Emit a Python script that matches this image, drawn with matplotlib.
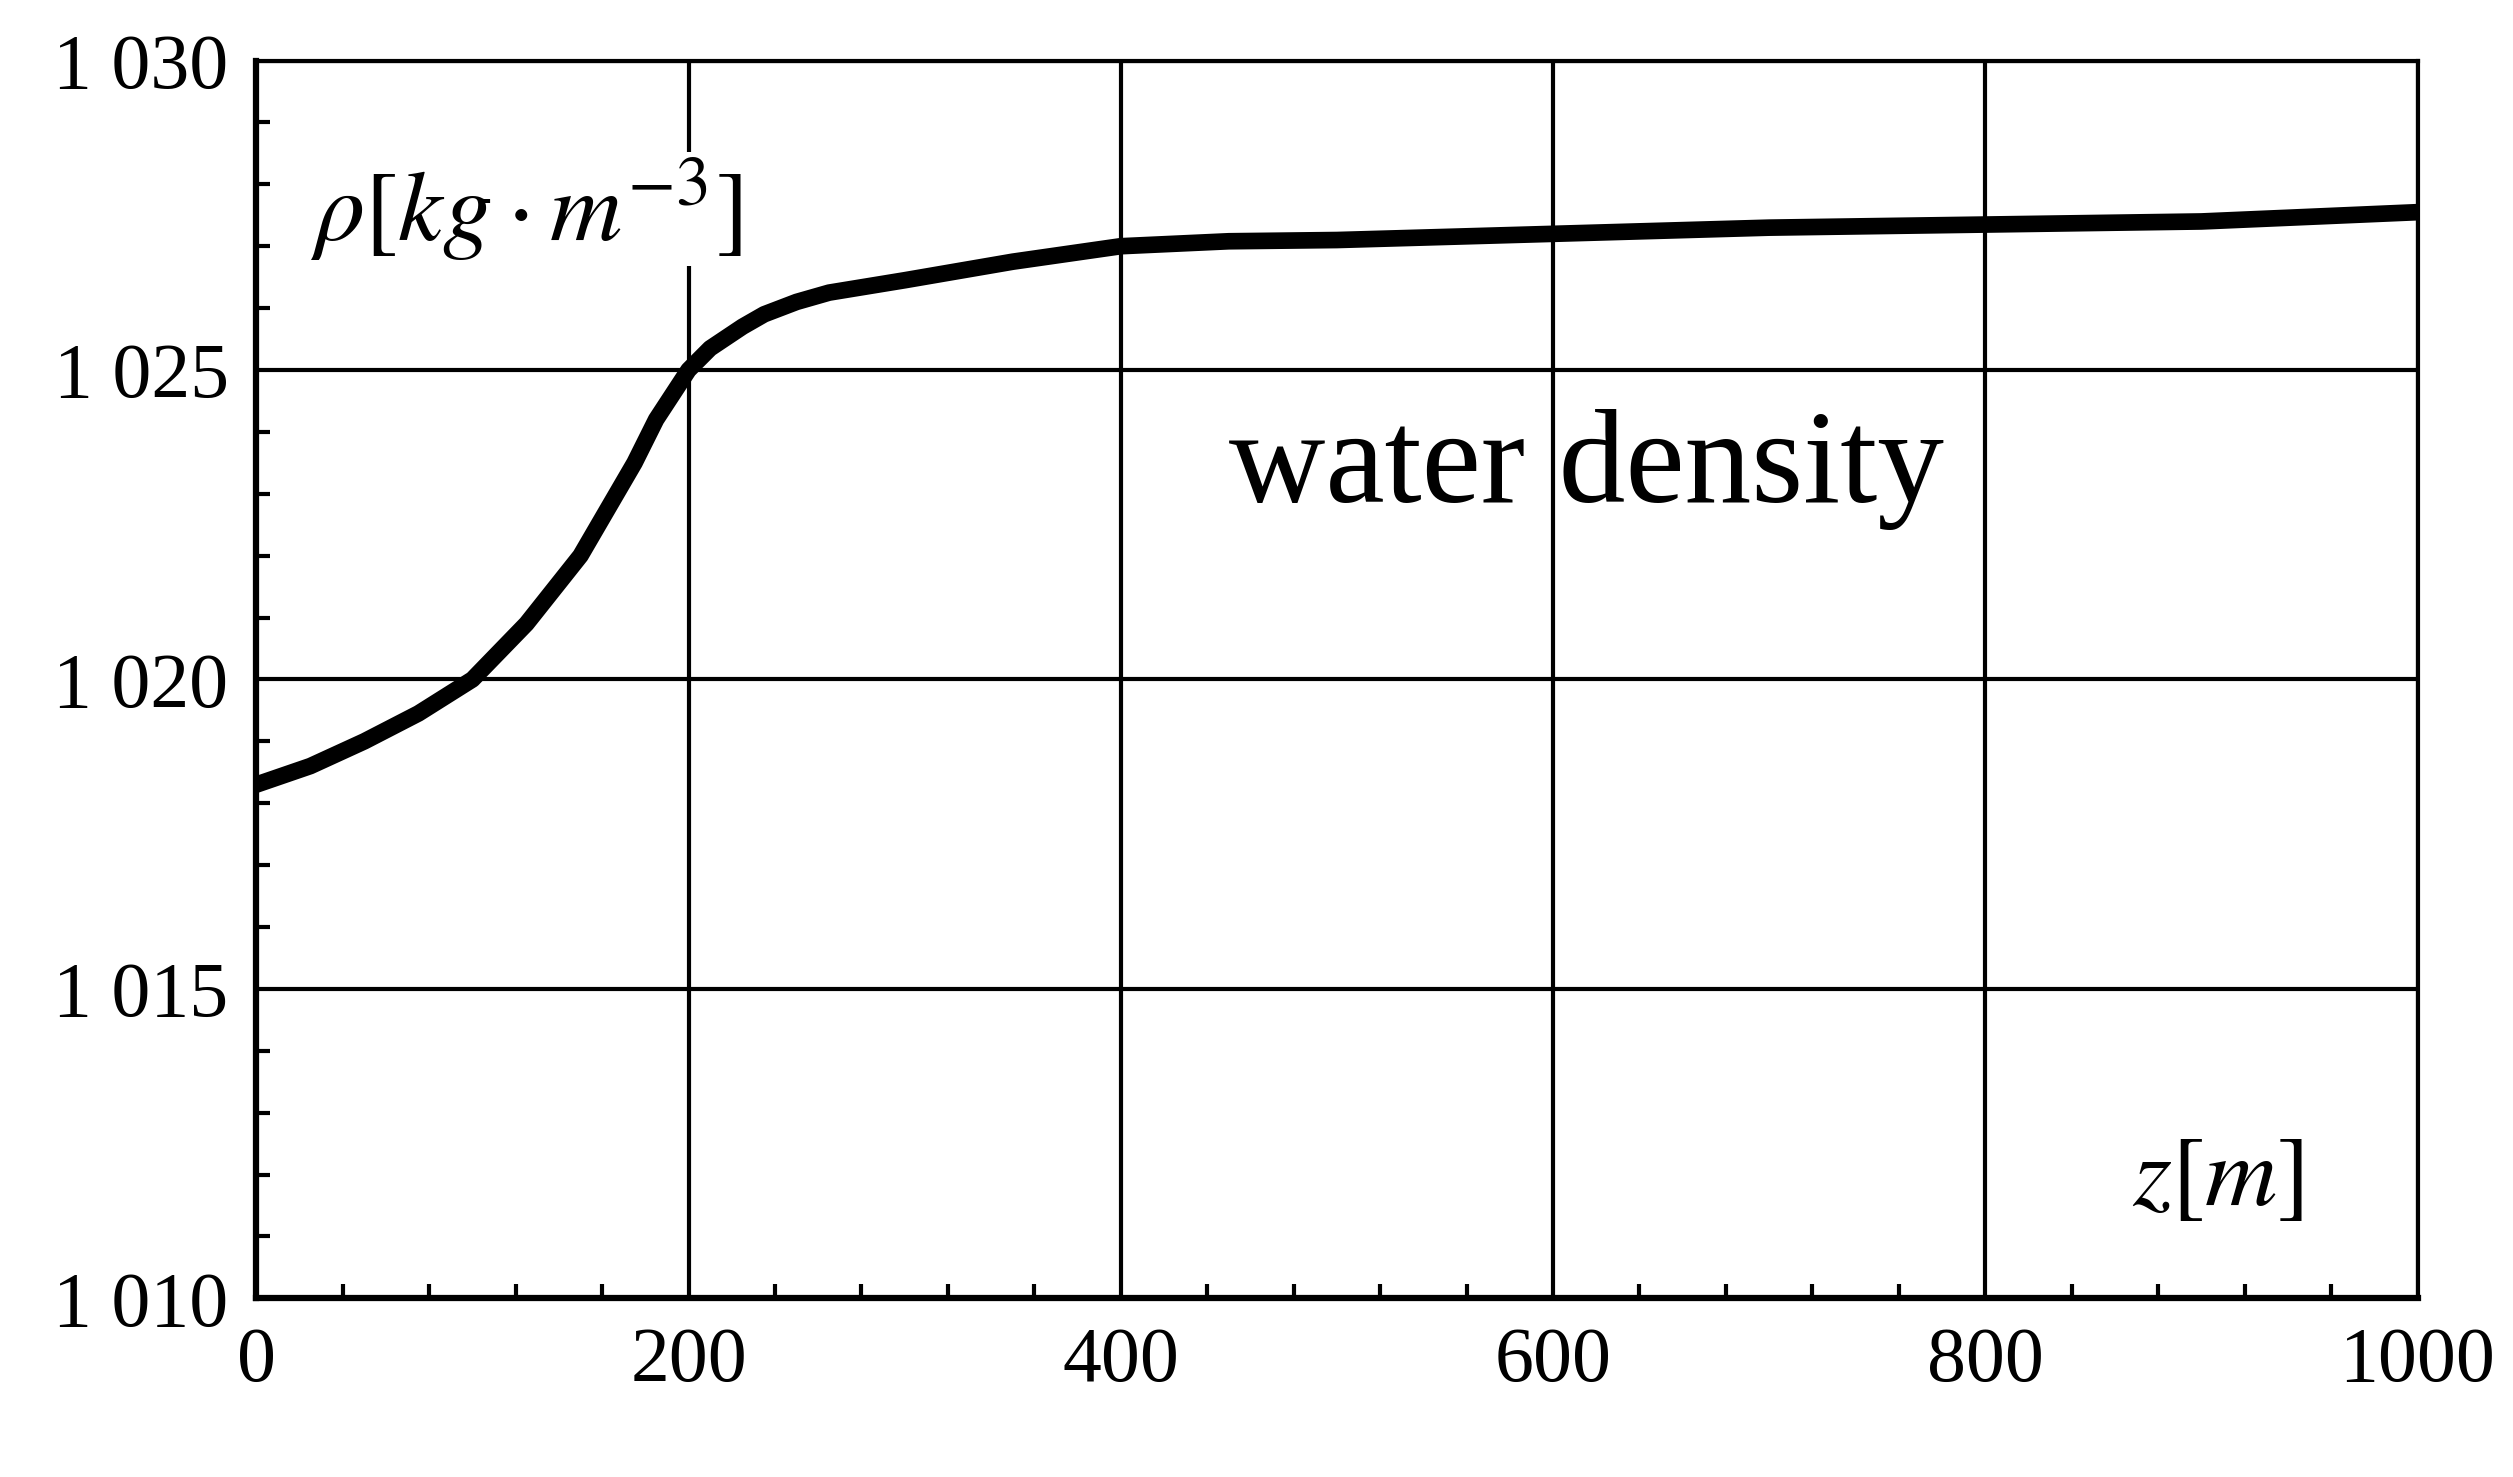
import matplotlib.pyplot as plt
from matplotlib.ticker import MultipleLocator, FuncFormatter

depth = [0, 25, 50, 75, 100, 125, 150, 160, 175, 185, 200, 210, 225, 235, 250, 265, 300, 350,
         400, 450, 500, 600, 700, 800, 900, 1000]
density = [1018.3, 1018.6, 1019.0, 1019.45, 1020.0, 1020.9, 1022.0, 1022.6, 1023.5, 1024.2,
           1025.0, 1025.35, 1025.7, 1025.9, 1026.1, 1026.25, 1026.45, 1026.75,
           1027.0, 1027.08, 1027.1, 1027.2, 1027.3, 1027.35, 1027.4, 1027.55]

plt.rcParams['font.family'] = ['Liberation Serif', 'DejaVu Serif']
plt.rcParams['mathtext.fontset'] = 'stix'

fig = plt.figure(figsize=(25.13, 14.77), dpi=100)
ax = fig.add_axes([0.102, 0.121, 0.860, 0.838])
ax.plot(depth, density, color='black', lw=12, solid_capstyle='butt', zorder=3)

ax.set_xlim(0, 1000)
ax.set_ylim(1010, 1030)
ax.xaxis.set_major_locator(MultipleLocator(200))
ax.xaxis.set_minor_locator(MultipleLocator(40))
ax.yaxis.set_major_locator(MultipleLocator(5))
ax.yaxis.set_minor_locator(MultipleLocator(1))
ax.yaxis.set_major_formatter(FuncFormatter(lambda v, p: f"{int(v):,}".replace(",", " ")))
ax.grid(True, which='major', color='black', lw=3)
ax.tick_params(which='both', direction='in', labelsize=56, width=3, pad=20)
ax.tick_params(which='major', length=0)
ax.tick_params(which='minor', length=10)
for s in ax.spines.values():
    s.set_linewidth(3)
ax.spines['left'].set_linewidth(4.5)
ax.spines['bottom'].set_linewidth(4.5)

ax.text(25, 1027.6, r'$\rho[kg\cdot m^{-3}]$', fontsize=72, ha='left', va='center',
        bbox=dict(facecolor='white', edgecolor='none', pad=2), zorder=2)
ax.text(450, 1023.4, 'water density', fontsize=96, ha='left', va='center')
ax.text(868, 1011.9, r'$z[m]$', fontsize=72, ha='left', va='center',
        bbox=dict(facecolor='white', edgecolor='none', pad=2), zorder=2)

fig.savefig('out.png', dpi=100)
